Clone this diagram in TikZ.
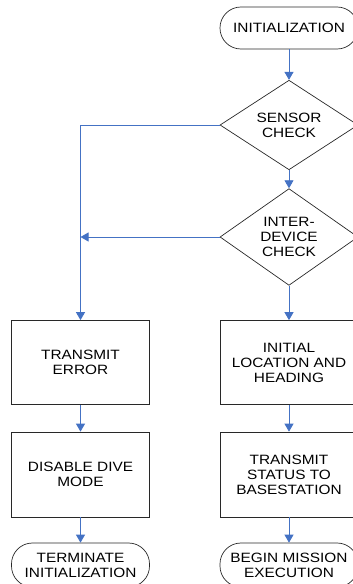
\documentclass[tikz,border=0pt]{standalone}
\usepackage{fontspec}
\setmainfont{Liberation Sans}
\newfontfamily\wfont[FakeStretch=1.14]{Liberation Sans}
\usetikzlibrary{shapes.geometric,arrows.meta}
\definecolor{arrblue}{RGB}{68,114,196}
\definecolor{edge}{RGB}{40,40,40}
\begin{document}
\begin{tikzpicture}[x=1pt,y=-1pt,
  every node/.style={font=\wfont\fontsize{13.5}{15}\selectfont,align=center,text=black},
  term/.style={draw=edge,line width=0.7pt,rectangle,rounded corners=20.9pt,minimum width=138pt,minimum height=42pt,inner sep=0pt},
  dec/.style={draw=edge,line width=0.7pt,diamond,minimum width=138pt,minimum height=83pt,inner sep=0pt},
  proc/.style={draw=edge,line width=0.7pt,rectangle,minimum width=138pt,minimum height=84pt,inner sep=0pt},
  arr/.style={draw=arrblue,line width=0.9pt,-{Triangle[length=8pt,width=9pt]}}]
\useasboundingbox (0,0) rectangle (353,584);
\clip (0,0) rectangle (353,584);
\node[term] (init) at (289,28) {INITIALIZATION};
\node[dec] (d1) at (289,125) {SENSOR\\CHECK};
\node[dec] (d2) at (289,237) {INTER-\\DEVICE\\CHECK};
\node[proc] (txerr) at (80.5,362.5) {TRANSMIT\\ERROR};
\node[proc] (loc) at (289,362.5) {INITIAL\\LOCATION AND\\HEADING};
\node[proc,minimum height=85pt] (disable) at (80.5,474.5) {DISABLE DIVE\\MODE};
\node[proc,minimum height=85pt] (status) at (289,474.5) {TRANSMIT\\STATUS TO\\BASESTATION};
\node[term,minimum height=44pt] (termi) at (80.5,565) {TERMINATE\\INITIALIZATION};
\node[term,minimum height=44pt] (begin) at (289,565) {BEGIN MISSION\\EXECUTION};
\draw[arr] (init) -- (d1);
\draw[arr] (d1) -- (d2);
\draw[arr] (d2) -- (loc);
\draw[arr] (loc) -- (status);
\draw[arr] (status) -- (begin);
\draw[arr] (d1.west) -| (txerr);
\coordinate (j) at (d2.west -| txerr);
\draw[arr] (d2.west) -- (j);
\draw[arr] (txerr) -- (disable);
\draw[arr] (disable) -- (termi);
\end{tikzpicture}
\end{document}
